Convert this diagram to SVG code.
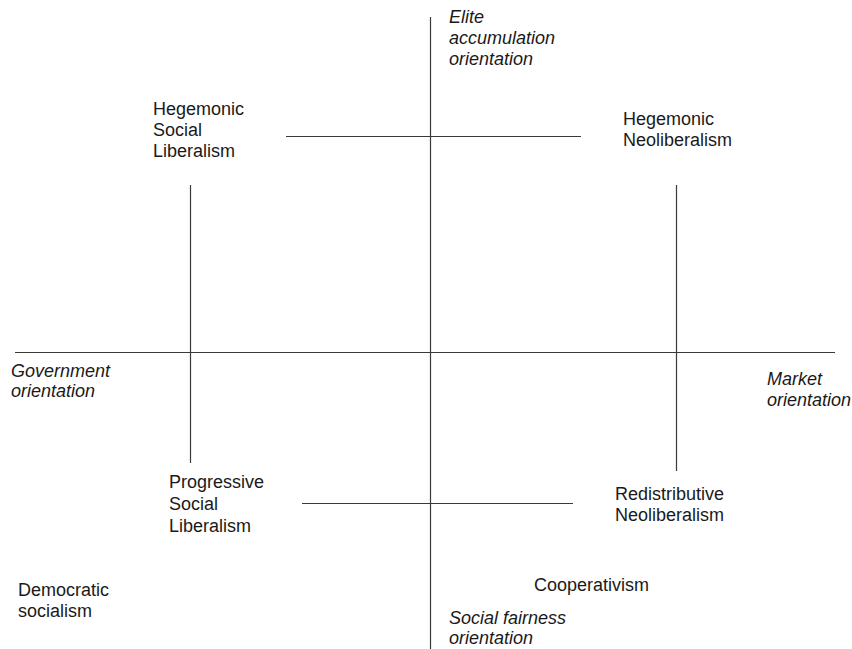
<svg xmlns="http://www.w3.org/2000/svg" width="852" height="649" viewBox="0 0 852 649">
  <style>
    .axis { stroke: #3a3a3a; stroke-width: 1.2; fill: none; }
    .lbl { font-family: "Liberation Sans", Arial, sans-serif; font-size: 18px; fill: #1a1a1a; }
    .pole { font-family: "Liberation Sans", Arial, sans-serif; font-size: 18px; font-style: italic; fill: #1a1a1a; }
  </style>
  <rect width="852" height="649" fill="#ffffff"/>

  <!-- axes and quadrant frame -->
  <g id="connectors">
    <line class="axis" x1="430.5" y1="17" x2="430.5" y2="649"/>
    <line class="axis" x1="15" y1="352.5" x2="835" y2="352.5"/>
    <line class="axis" x1="286" y1="136.5" x2="581" y2="136.5"/>
    <line class="axis" x1="302" y1="503.5" x2="573" y2="503.5"/>
    <line class="axis" x1="190.5" y1="185" x2="190.5" y2="463"/>
    <line class="axis" x1="676.5" y1="185" x2="676.5" y2="471"/>
  </g>

  <!-- pole labels -->
  <g id="pole-elite">
    <text class="pole" x="449" y="23">Elite</text>
    <text class="pole" x="449" y="44">accumulation</text>
    <text class="pole" x="449" y="65">orientation</text>
  </g>
  <g id="pole-government">
    <text class="pole" x="11" y="377">Government</text>
    <text class="pole" x="11" y="397">orientation</text>
  </g>
  <g id="pole-market">
    <text class="pole" x="767" y="385">Market</text>
    <text class="pole" x="767" y="406">orientation</text>
  </g>
  <g id="pole-fairness">
    <text class="pole" x="449" y="624">Social fairness</text>
    <text class="pole" x="449" y="644">orientation</text>
  </g>

  <!-- positions -->
  <g id="hegemonic-social-liberalism">
    <text class="lbl" x="153" y="115">Hegemonic</text>
    <text class="lbl" x="153" y="136">Social</text>
    <text class="lbl" x="153" y="157">Liberalism</text>
  </g>
  <g id="hegemonic-neoliberalism">
    <text class="lbl" x="623" y="125">Hegemonic</text>
    <text class="lbl" x="623" y="146">Neoliberalism</text>
  </g>
  <g id="progressive-social-liberalism">
    <text class="lbl" x="169" y="488">Progressive</text>
    <text class="lbl" x="169" y="510">Social</text>
    <text class="lbl" x="169" y="532">Liberalism</text>
  </g>
  <g id="redistributive-neoliberalism">
    <text class="lbl" x="615" y="500">Redistributive</text>
    <text class="lbl" x="615" y="521">Neoliberalism</text>
  </g>
  <g id="democratic-socialism">
    <text class="lbl" x="18" y="596">Democratic</text>
    <text class="lbl" x="18" y="617">socialism</text>
  </g>
  <g id="cooperativism">
    <text class="lbl" x="534" y="591">Cooperativism</text>
  </g>
</svg>
